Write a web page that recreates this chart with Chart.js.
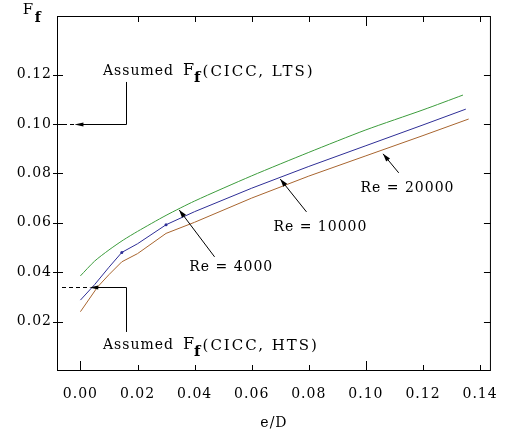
<!DOCTYPE html>
<html><head><meta charset="utf-8">
<script src="https://cdn.jsdelivr.net/npm/chart.js@4/dist/chart.umd.min.js"></script>
<style>html,body{margin:0;padding:0;background:#fff;}canvas{display:block;}</style>
</head><body>
<canvas id="c" width="513" height="437"></canvas>
<script>
// ---- data ----
const xTickValues = [0.00, 0.02, 0.04, 0.06, 0.08, 0.10, 0.12, 0.14];
const yTickValues = [0.02, 0.04, 0.06, 0.08, 0.10, 0.12];

const seriesNames = ['Re = 4000', 'Re = 10000', 'Re = 20000'];

const eD_Re4000 = [0, 0.005, 0.010, 0.015, 0.020, 0.030, 0.040, 0.060, 0.080, 0.100, 0.120, 0.134];
const Ff_Re4000 = [0.0385, 0.0445, 0.0490, 0.0530, 0.0565, 0.0630, 0.0688, 0.0790, 0.0885, 0.0976, 0.1057, 0.1117];

const eD_Re10000 = [0, 0.005, 0.010, 0.0145, 0.020, 0.030, 0.040, 0.060, 0.080, 0.100, 0.120, 0.135];
const Ff_Re10000 = [0.0287, 0.0350, 0.0420, 0.0480, 0.0515, 0.0592, 0.0645, 0.0740, 0.0828, 0.0912, 0.0996, 0.1060];

const eD_Re20000 = [0, 0.006, 0.010, 0.0145, 0.020, 0.030, 0.040, 0.060, 0.080, 0.100, 0.120, 0.136];
const Ff_Re20000 = [0.0240, 0.0340, 0.0390, 0.0442, 0.0475, 0.0557, 0.0602, 0.0700, 0.0789, 0.0871, 0.0953, 0.1020];

// assumed friction factors (annotations)
const assumedLTS = 0.10;
const assumedHTS = 0.034;

const FONT = '"DejaVu Serif", "Liberation Serif", serif';
const colors = ['#3c9c3c', '#2e2e96', '#a8652f'];

function pts(xs, ys){ return xs.map((x,i)=>({x:x, y:ys[i]})); }

const datasets = [
  {label: seriesNames[0], data: pts(eD_Re4000, Ff_Re4000), borderColor: colors[0], tension: 0.25},
  {label: seriesNames[1], data: pts(eD_Re10000, Ff_Re10000), borderColor: colors[1],
   pointRadius: eD_Re10000.map(v => (v===0.0145||v===0.030)?1.5:0), pointBackgroundColor: colors[1], pointBorderWidth:0},
  {label: seriesNames[2], data: pts(eD_Re20000, Ff_Re20000), borderColor: colors[2]}
].map(d => Object.assign({borderWidth: 1, pointRadius: 0, tension: 0, fill: false}, d));

function arrowHead(ctx, x1, y1, x2, y2, len, wid){
  const ang = Math.atan2(y2-y1, x2-x1);
  ctx.save();
  ctx.translate(x2, y2); ctx.rotate(ang);
  ctx.beginPath(); ctx.moveTo(0,0); ctx.lineTo(-len, wid/2); ctx.lineTo(-len, -wid/2); ctx.closePath();
  ctx.fill();
  ctx.restore();
}

function drawAssumed(ctx, x0, yc, post){
  ctx.textBaseline = 'middle'; ctx.textAlign = 'left';
  ctx.font = '14px ' + FONT;
  ctx.fillText('Assumed', x0, yc);
  let w = ctx.measureText('Assumed').width + 9;
  ctx.font = '16px ' + FONT;
  ctx.fillText('F', x0 + w, yc - 1);
  w += ctx.measureText('F').width - 1;
  ctx.font = 'bold 15px ' + FONT;
  ctx.fillText('f', x0 + w, yc + 6);
  w += ctx.measureText('f').width + 1;
  ctx.font = '15px ' + FONT;
  ctx.save(); ctx.letterSpacing = '2px';
  ctx.fillText(post, x0 + w, yc);
  ctx.restore();
}

const deco = {
  id: 'deco',
  beforeLayout(chart){ chart.ctx.letterSpacing = '1px'; },
  beforeDraw(chart){ chart.ctx.letterSpacing = '1px'; },
  afterDraw(chart){
    const {ctx, chartArea: a, scales: {x, y}} = chart;
    ctx.save();
    ctx.letterSpacing = '1px';
    ctx.strokeStyle = '#000'; ctx.fillStyle = '#000'; ctx.lineWidth = 1;
    // frame
    ctx.strokeRect(a.left + 0.5, a.top + 0.5, a.right - a.left - 1, a.bottom - a.top - 1);
    // inner ticks
    ctx.beginPath();
    xTickValues.forEach(v => {
      const px = Math.round(x.getPixelForValue(v)) + 0.5;
      const major = (Math.abs(v) < 1e-9 || Math.abs(v - 0.10) < 1e-9);
      ctx.moveTo(px, a.bottom); ctx.lineTo(px, a.bottom - (major ? 10 : 6));
      if (v > 0.001) { ctx.moveTo(px, a.top); ctx.lineTo(px, a.top + (major ? 10 : 6)); }
    });
    yTickValues.forEach(v => {
      const py = Math.round(y.getPixelForValue(v)) + 0.5;
      ctx.moveTo(a.left - 4, py); ctx.lineTo(a.left + 6, py);
      ctx.moveTo(a.right, py); ctx.lineTo(a.right - 7, py);
    });
    ctx.stroke();

    // F_f axis label
    ctx.textBaseline = 'middle'; ctx.textAlign = 'left';
    ctx.font = '15px ' + FONT;
    const fx = x.getPixelForValue(-0.0202), fy = y.getPixelForValue(0.1462);
    ctx.fillText('F', fx, fy);
    ctx.font = 'bold 14px ' + FONT;
    ctx.fillText('f', fx + ctx.measureText('F').width + 1, fy + 9);

    // LTS annotation
    const legX = x.getPixelForValue(0.0158);
    drawAssumed(ctx, x.getPixelForValue(0.0079), y.getPixelForValue(0.1211), '(CICC, LTS)');
    const yL = Math.round(y.getPixelForValue(assumedLTS)) + 0.5;
    const tipL = x.getPixelForValue(-0.0021);
    ctx.beginPath();
    ctx.moveTo(Math.round(legX)+0.5, y.getPixelForValue(0.117)); ctx.lineTo(Math.round(legX)+0.5, yL);
    ctx.lineTo(tipL + 6, yL);
    ctx.stroke();
    arrowHead(ctx, tipL + 10, yL, tipL, yL, 9, 4);
    ctx.save(); ctx.setLineDash([4, 3]);
    ctx.beginPath(); ctx.moveTo(a.left + 6, yL); ctx.lineTo(tipL, yL); ctx.stroke();
    ctx.restore();

    // HTS annotation
    drawAssumed(ctx, x.getPixelForValue(0.0079), y.getPixelForValue(0.0102), '(CICC, HTS)');
    const yH = Math.round(y.getPixelForValue(assumedHTS)) + 0.5;
    const tipH = x.getPixelForValue(0.0031);
    ctx.beginPath();
    ctx.moveTo(Math.round(legX)+0.5, y.getPixelForValue(0.0158)); ctx.lineTo(Math.round(legX)+0.5, yH);
    ctx.lineTo(tipH + 6, yH);
    ctx.stroke();
    arrowHead(ctx, tipH + 10, yH, tipH, yH, 9, 4);
    ctx.save(); ctx.setLineDash([4, 3]);
    ctx.beginPath(); ctx.moveTo(a.left + 5, yH); ctx.lineTo(tipH, yH); ctx.stroke();
    ctx.restore();

    // Re labels with arrows
    const reLabels = [
      {t: seriesNames[0], tx: 0.0381, ty: 0.0421, x1: 0.0470, y1: 0.0462, x2: 0.0346, y2: 0.0652},
      {t: seriesNames[1], tx: 0.0676, ty: 0.0583, x1: 0.0792, y1: 0.0644, x2: 0.0700, y2: 0.0777},
      {t: seriesNames[2], tx: 0.0981, ty: 0.0741, x1: 0.1115, y1: 0.0802, x2: 0.1060, y2: 0.0879}
    ];
    reLabels.forEach(r => {
      ctx.font = '14px ' + FONT; ctx.textBaseline = 'middle'; ctx.textAlign = 'left';
      ctx.fillText(r.t, x.getPixelForValue(r.tx), y.getPixelForValue(r.ty));
      const X1 = x.getPixelForValue(r.x1), Y1 = y.getPixelForValue(r.y1);
      const X2 = x.getPixelForValue(r.x2), Y2 = y.getPixelForValue(r.y2);
      ctx.beginPath(); ctx.moveTo(X1, Y1); ctx.lineTo(X2, Y2); ctx.stroke();
      arrowHead(ctx, X1, Y1, X2, Y2, 8, 5);
    });
    ctx.restore();
  }
};

new Chart(document.getElementById('c'), {
  type: 'line',
  data: {datasets},
  options: {
    responsive: false,
    animation: false,
    devicePixelRatio: 1,
    layout: {padding: {top: 16, right: 13, left: 0, bottom: 0}},
    plugins: {legend: {display: false}, tooltip: {enabled: false}},
    scales: {
      x: {
        type: 'linear', min: -0.0082, max: 0.1438,
        afterBuildTicks: s => { s.ticks = xTickValues.map(v => ({value: v})); },
        afterFit: s => { s.height = 66; },
        grid: {display: false, drawTicks: false},
        border: {display: false},
        ticks: {color: '#000', font: {family: FONT, size: 14}, padding: 15, maxRotation: 0, autoSkip: false,
                callback: v => Number(v).toFixed(2)},
        title: {display: true, text: 'e/D', color: '#000', font: {family: FONT, size: 14}, padding: {top: 0, bottom: 5}}
      },
      y: {
        type: 'linear', min: 0, max: 0.1437,
        afterBuildTicks: s => { s.ticks = yTickValues.map(v => ({value: v})); },
        afterFit: s => { s.width = 57; },
        grid: {display: false, drawTicks: false},
        border: {display: false},
        ticks: {color: '#000', font: {family: FONT, size: 14}, padding: 5, autoSkip: false,
                callback: v => Number(v).toFixed(2)}
      }
    }
  },
  plugins: [deco]
});
</script>
</body></html>
